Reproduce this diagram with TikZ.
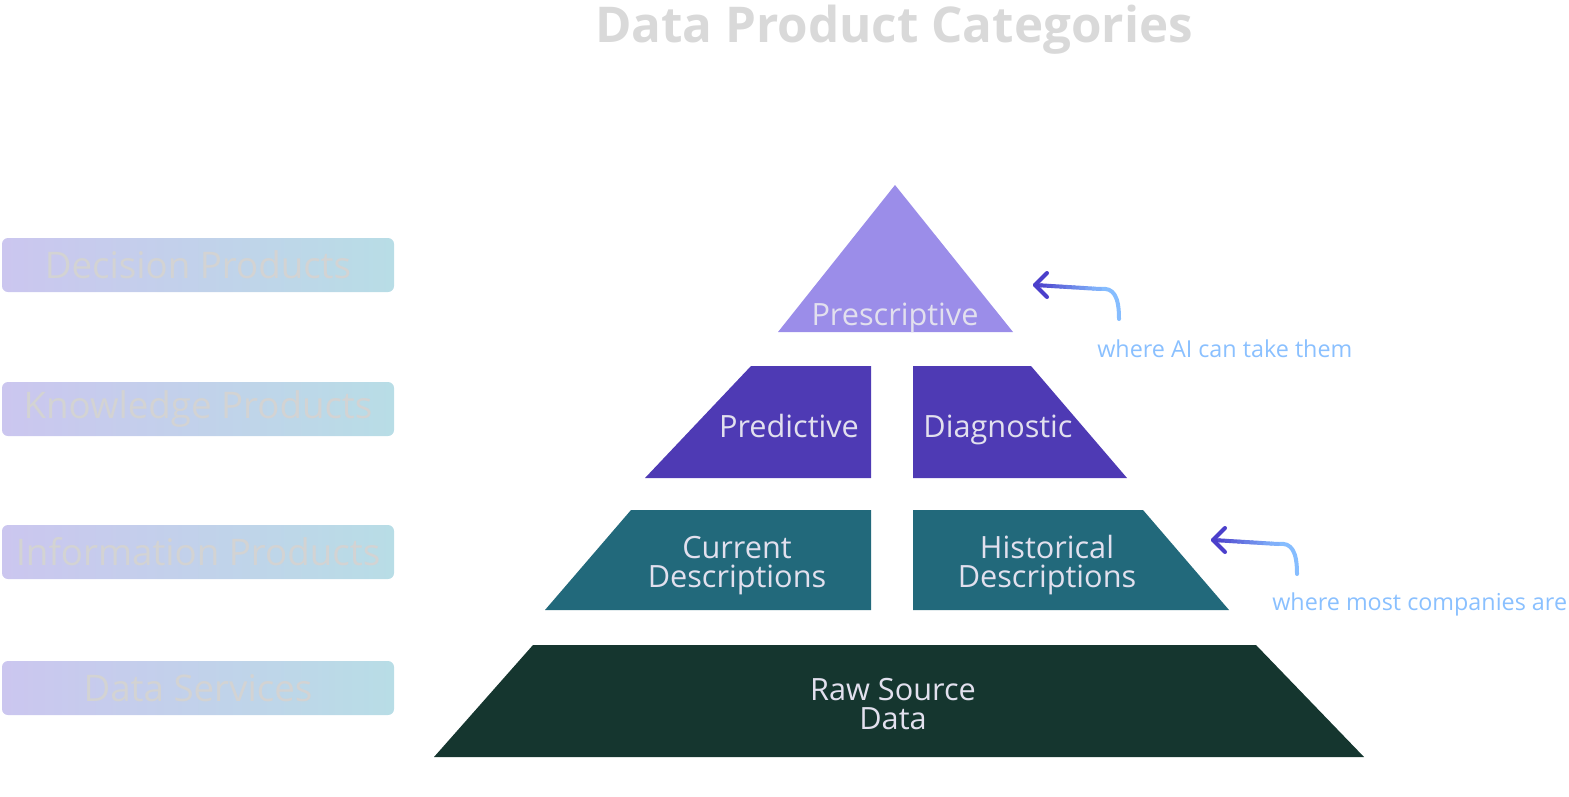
\documentclass[tikz,border=0pt]{standalone}
\usepackage{fontspec}
\setmainfont{Open Sans}
\usetikzlibrary{calc}
\definecolor{tipcol}{HTML}{9B8DE9}
\definecolor{midcol}{HTML}{4E3AB4}
\definecolor{lowcol}{HTML}{22697B}
\definecolor{basecol}{HTML}{15362F}
\definecolor{pyrtext}{HTML}{E2E0EE}
\definecolor{boxleft}{HTML}{CBC6EF}
\definecolor{boxright}{HTML}{B8DDE6}
\definecolor{boxtext}{HTML}{D3D3D3}
\definecolor{titlecol}{HTML}{D9D9D9}
\definecolor{notetext}{HTML}{8AC0FF}
\definecolor{arrowblue}{HTML}{86BDFF}
\definecolor{arrowpurple}{HTML}{4B3FCB}
\begin{document}
\begin{tikzpicture}[x=0.75pt,y=-0.75pt,
	tier/.style={text=pyrtext,font=\fontsize{23}{21.75}\selectfont,align=center,inner sep=0pt,anchor=base},
	catbox/.style={rounded corners=4.5pt,left color=boxleft,right color=boxright,
		minimum width=294pt,minimum height=40.5pt,inner sep=0pt,
		text=boxtext,font=\fontsize{27.5}{27.5}\selectfont},
	note/.style={text=notetext,font=\fontsize{17.5}{17.5}\selectfont,inner sep=0pt,anchor=base west},
	note arrow/.style={line width=3pt,line cap=round,line join=round}]
	\useasboundingbox (0,0) rectangle (1569,796);
	
	% title
	\node[text=titlecol,font=\fontsize{37}{37}\selectfont\bfseries] (title) at (894,30) {Data Product Categories};
	
	% categories on the left
	\node[catbox] (decision) at (198,265) {Decision Products};
	\node[catbox] (knowledge) at (198,409) {Knowledge Products};
	\node[catbox] (information) at (198,552) {Information Products};
	\node[catbox] (services) at (198,688) {Data Services};
	
	% pyramid
	\fill[tipcol] (895,185) -- (1013,332) -- (778,332) -- cycle;
	\fill[midcol] (751,366) -- (871,366) -- (871,478) -- (645,478) -- cycle;
	\fill[midcol] (913,366) -- (1031,366) -- (1127,478) -- (913,478) -- cycle;
	\fill[lowcol] (631,510) -- (871,510) -- (871,610) -- (545,610) -- cycle;
	\fill[lowcol] (913,510) -- (1143,510) -- (1229,610) -- (913,610) -- cycle;
	\fill[basecol] (533,645) -- (1256,645) -- (1364,757) -- (434,757) -- cycle;
	
	% base anchor sits on the last line
	\node[tier] (prescriptive) at (895,325) {Prescriptive};
	\node[tier] (predictive) at (789,437) {Predictive};
	\node[tier] (diagnostic) at (998,437) {Diagnostic};
	\node[tier] (current) at (737,587) {Current\\Descriptions};
	\node[tier] (historical) at (1047,587) {Historical\\Descriptions};
	\node[tier] (raw) at (893,729) {Raw Source\\Data};
	
	% notes
	\node[note] (ai) at (1097,357) {where AI can take them};
	\node[note] (most) at (1272,610) {where most companies are};
	
	\coordinate (ai start) at (1119,319);
	\coordinate (ai bend) at (1100,289);
	\coordinate (ai tip) at (1035,285);
	\coordinate (most start) at (1297,574);
	\coordinate (most bend) at (1278,544);
	\coordinate (most tip) at (1213,540);
	
	\foreach \a in {ai,most}{
		\draw[note arrow,arrowblue] (\a\space start) .. controls +(0,-22) and +(14,-2) .. (\a\space bend);
		\foreach \i [evaluate=\i as \p using 100-\i*10] in {0,...,9}
			\draw[note arrow,arrowpurple!\p!arrowblue] ($(\a\space tip)!\i/10!(\a\space bend)$) -- ($(\a\space tip)!\i/10+0.1!(\a\space bend)$);
		\draw[note arrow,arrowpurple] ($(\a\space tip)+(12,-12)$) -- (\a\space tip) -- ($(\a\space tip)+(12,12)$);
	}
\end{tikzpicture}
\end{document}
